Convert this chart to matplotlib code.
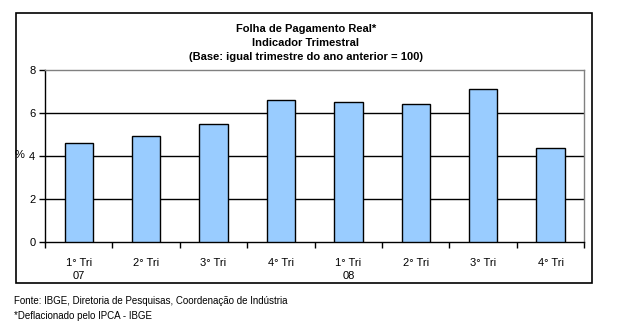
import matplotlib
matplotlib.use("Agg")
import matplotlib.pyplot as plt
from matplotlib.patches import Rectangle
import numpy as np

plt.rcParams['font.family'] = ['Liberation Sans', 'DejaVu Sans']

quarters = ["1° Tri\n07", "2° Tri", "3° Tri", "4° Tri", "1° Tri\n08", "2° Tri", "3° Tri", "4° Tri"]
values = [4.58, 4.90, 5.46, 6.58, 6.48, 6.39, 7.09, 4.34]
yticks = [0, 2, 4, 6, 8]

W, H = 622, 331
fig = plt.figure(figsize=(W / 100, H / 100), dpi=100)

def px(x0, y0, x1, y1):
    return [x0 / W, 1 - y1 / H, (x1 - x0) / W, (y1 - y0) / H]

# outer frame
fig.patches.append(Rectangle((16 / W, 1 - 283 / H), (592 - 16) / W, (283 - 13) / H,
                             transform=fig.transFigure, fill=False, edgecolor='black', lw=1.2))

ax = fig.add_axes(px(45, 69.7, 584.3, 241.7))
x = np.arange(len(values)) + 0.5
ax.bar(x, values, width=0.42, color='#99CCFF', edgecolor='black', linewidth=1, zorder=3)
ax.set_xlim(0, len(values))
ax.set_ylim(0, 8)
ax.set_yticks(yticks)
ax.set_yticklabels([str(v) for v in yticks], fontsize=8)
for v in yticks[1:-1]:
    ax.axhline(v, color='black', lw=1, zorder=1)

ax.set_xticks(np.arange(len(values) + 1))
ax.set_xticklabels([])
ax.set_xticks(x, minor=True)
ax.set_xticklabels(quarters, minor=True, fontsize=8, linespacing=1.35)
ax.tick_params(axis='x', which='major', direction='out', length=4, width=1)
ax.tick_params(axis='x', which='minor', length=0, pad=12)
ax.tick_params(axis='y', direction='out', length=4, width=1, pad=3)

for side in ('top', 'right'):
    ax.spines[side].set_color('#808080')
    ax.spines[side].set_linewidth(1)
for side in ('left', 'bottom'):
    ax.spines[side].set_color('black')
    ax.spines[side].set_linewidth(1)

fig.text(15 / W, 1 - 155 / H, "%", fontsize=8, ha='left', va='center')

title_lines = ["Folha de Pagamento Real*", "Indicador Trimestral",
               "(Base: igual trimestre do ano anterior = 100)"]
for i, line in enumerate(title_lines):
    fig.text(306 / W, 1 - (29.5 + 14 * i) / H, line, fontsize=8, fontweight='bold',
             ha='center', va='center')

fig.text(14 / W, 1 - 301.5 / H, "Fonte: IBGE, Diretoria de Pesquisas, Coordenação de Indústria",
         fontsize=7, ha='left', va='center')
fig.text(14 / W, 1 - 316 / H, "*Deflacionado pelo IPCA - IBGE",
         fontsize=7, ha='left', va='center')

fig.savefig("out.png", dpi=100)
